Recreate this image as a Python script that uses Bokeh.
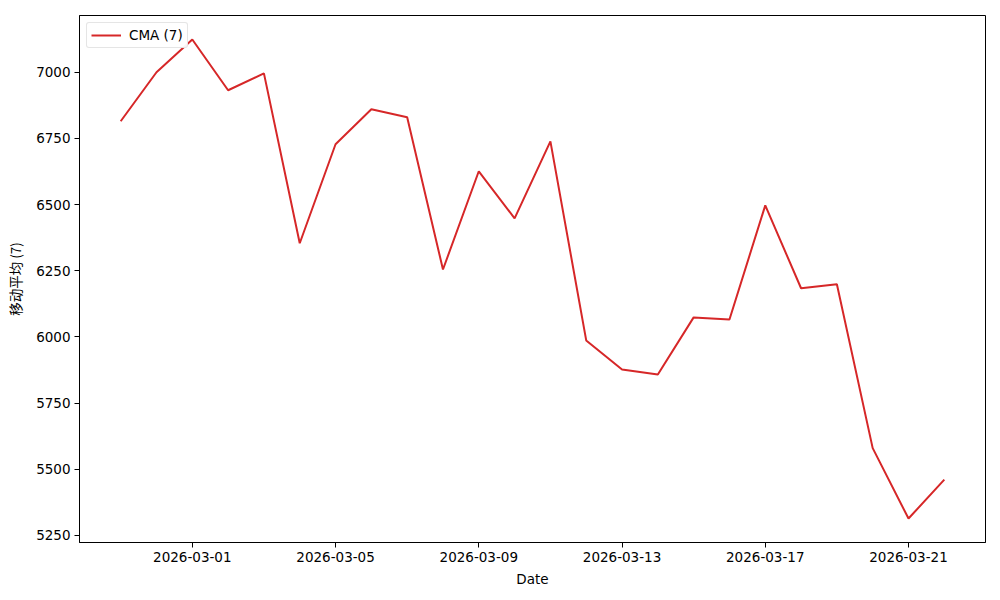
from datetime import datetime, timedelta
from bokeh.plotting import figure
from bokeh.models import (ColumnDataSource, Range1d, FixedTicker, DatetimeTickFormatter,
                          Legend, LegendItem)
from bokeh.embed import file_html
from bokeh.resources import INLINE

start_date = "2026-02-27"
values = [6815, 7000, 7124, 6932, 6996, 6354, 6728, 6860, 6830, 6255,
          6626, 6448, 6739, 5987, 5877, 5858, 6074, 6066, 6497, 6184,
          6199, 5580, 5314, 5461]
tick_dates = ["2026-03-01", "2026-03-05", "2026-03-09", "2026-03-13",
              "2026-03-17", "2026-03-21"]
y_ticks = [5250, 5500, 5750, 6000, 6250, 6500, 6750, 7000]
series_label = "CMA (7)"
x_label = "Date"
y_label = "移动平均 (7)"

d0 = datetime.strptime(start_date, "%Y-%m-%d")
dates = [d0 + timedelta(days=i) for i in range(len(values))]
src = ColumnDataSource(dict(x=dates, y=values))

span_x = dates[-1] - dates[0]
pad_x = span_x * 0.05
ymin, ymax = min(values), max(values)
pad_y = (ymax - ymin) * 0.05

p = figure(width=1000, height=600, output_backend="svg", toolbar_location=None,
           x_axis_type="datetime",
           x_range=Range1d(dates[0] - pad_x, dates[-1] + pad_x),
           y_range=Range1d(ymin - pad_y, ymax + pad_y),
           min_border_left=79, min_border_right=15, min_border_top=15, min_border_bottom=58)
p.xgrid.visible = False
p.ygrid.visible = False
p.outline_line_color = "black"
p.outline_line_width = 1
p.background_fill_color = "white"
p.border_fill_color = "white"

r = p.line("x", "y", source=src, line_color="#d62728", line_width=2)

def ms(s):
    return (datetime.strptime(s, "%Y-%m-%d") - datetime(1970, 1, 1)).total_seconds() * 1000

p.xaxis.ticker = FixedTicker(ticks=[ms(s) for s in tick_dates])
p.xaxis.formatter = DatetimeTickFormatter(days="%Y-%m-%d", months="%Y-%m-%d", hours="%Y-%m-%d")
p.yaxis.ticker = FixedTicker(ticks=y_ticks)

for ax in (p.xaxis[0], p.yaxis[0]):
    ax.axis_line_color = "black"
    ax.major_tick_line_color = "black"
    ax.major_tick_out = 5
    ax.major_tick_in = 0
    ax.minor_tick_line_color = None
    ax.major_label_text_font = "DejaVu Sans"
    ax.major_label_text_font_size = "13.5px"
    ax.major_label_text_color = "black"
    ax.axis_label_text_font_style = "normal"
    ax.axis_label_text_font_size = "13.5px"
    ax.axis_label_text_color = "black"

p.xaxis.axis_label = x_label
p.xaxis.axis_label_text_font = "DejaVu Sans"
p.xaxis.axis_label_standoff = 6
p.yaxis.axis_label = y_label
p.yaxis.axis_label_text_font = "Noto Sans CJK SC"
p.yaxis.axis_label_standoff = 8
p.yaxis.major_label_standoff = 4
p.xaxis.major_label_standoff = 4

legend = Legend(items=[LegendItem(label=series_label, renderers=[r])],
                location="top_left")
legend.label_text_font = "DejaVu Sans"
legend.label_text_font_size = "13.5px"
legend.label_text_color = "black"
legend.border_line_color = "#cccccc"
legend.border_radius = 3
legend.margin = 7
legend.padding = 4
legend.glyph_width = 30
legend.label_standoff = 8
legend.label_height = 14
legend.glyph_height = 14
p.add_layout(legend)

open("out.html", "w").write(file_html(p, INLINE))
